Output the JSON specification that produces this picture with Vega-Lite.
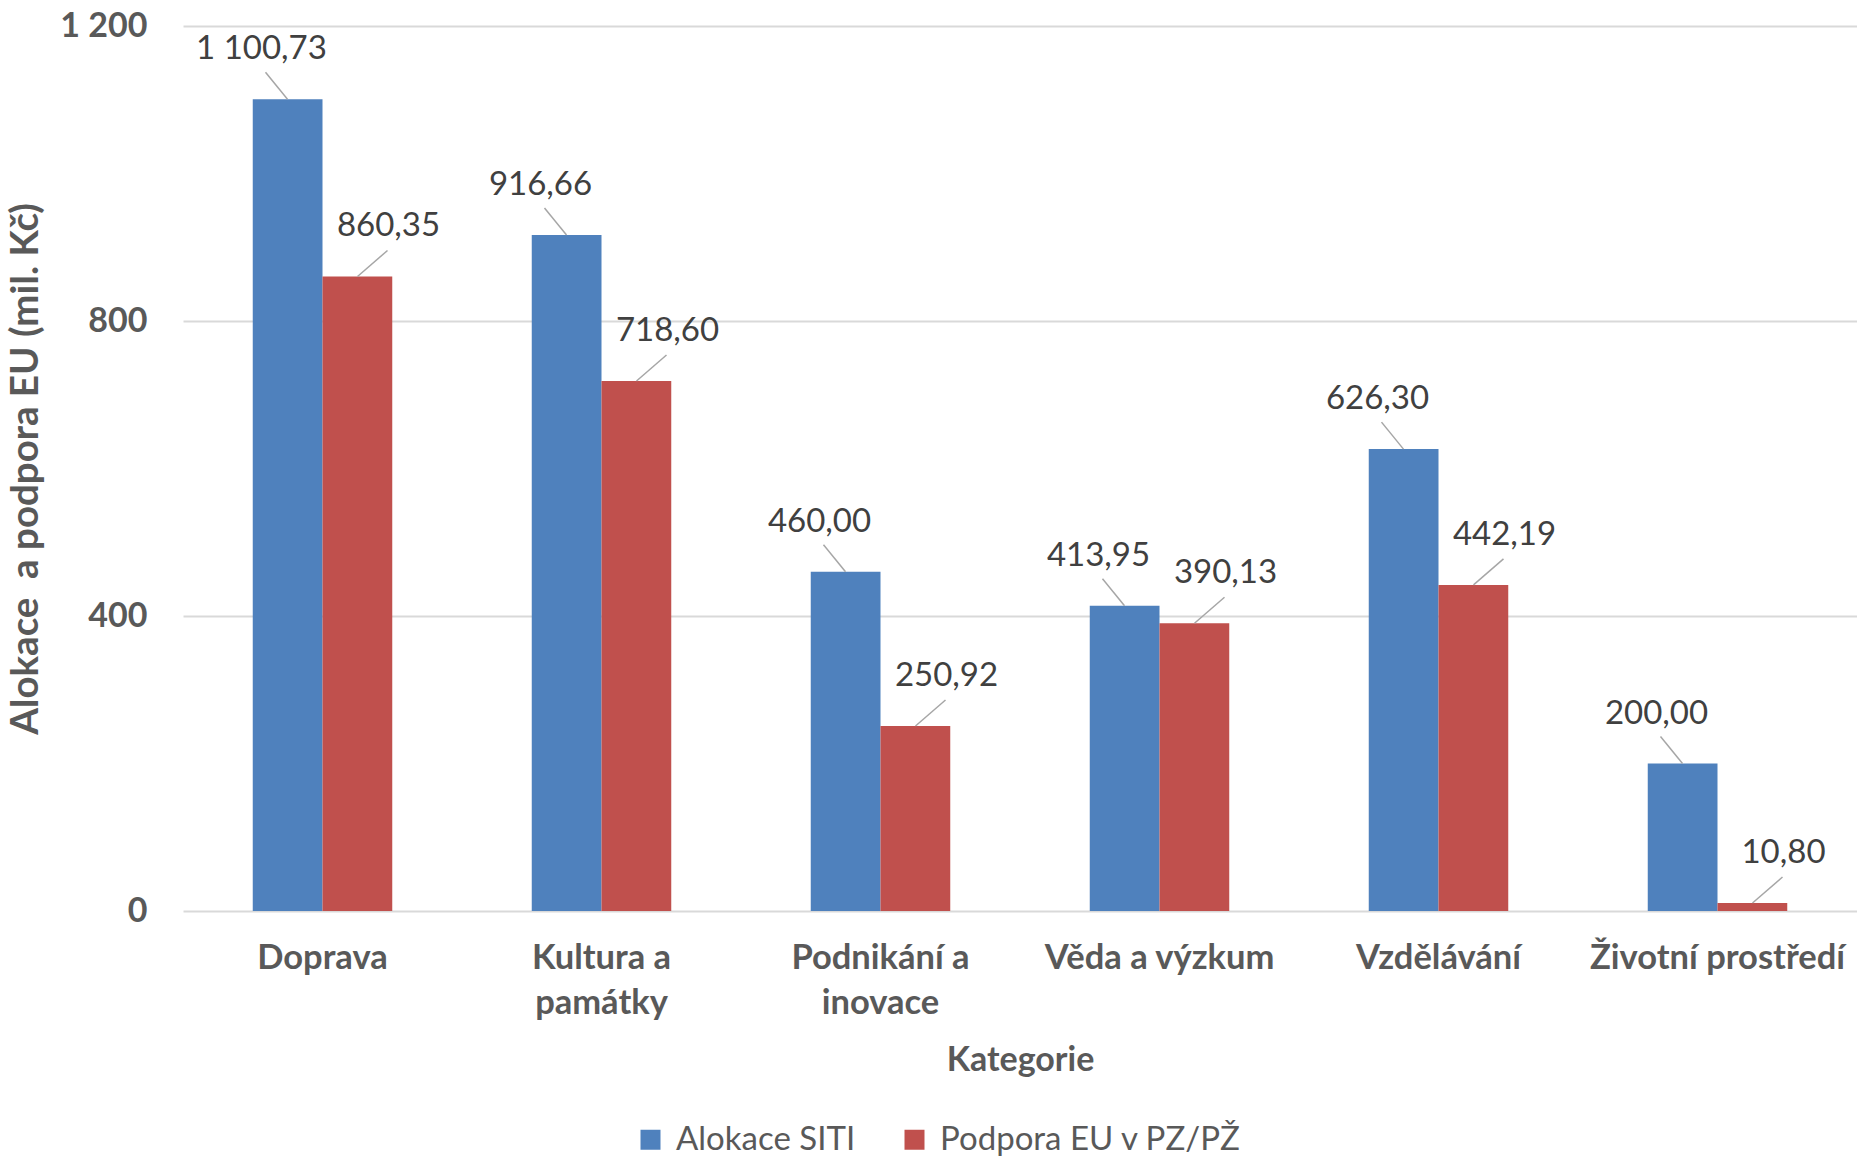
{
  "$schema": "https://vega.github.io/schema/vega-lite/v6.json",
  "width": 1674,
  "height": 885,
  "autosize": "none",
  "padding": {"left": 183, "top": 26, "right": 0, "bottom": 248},
  "background": "white",
  "config": {
    "view": {"stroke": null},
    "font": "Lato",
    "locale": {"number": {"decimal": ",", "thousands": " ", "grouping": [3], "currency": ["", " Kč"]}}
  },
  "data": {
    "values": [
      {"kategorie": "Doprava", "serie": "Alokace SITI", "hodnota": 1100.73},
      {"kategorie": "Doprava", "serie": "Podpora EU v PZ/PŽ", "hodnota": 860.35},
      {"kategorie": "Kultura a památky", "serie": "Alokace SITI", "hodnota": 916.66},
      {"kategorie": "Kultura a památky", "serie": "Podpora EU v PZ/PŽ", "hodnota": 718.60},
      {"kategorie": "Podnikání a inovace", "serie": "Alokace SITI", "hodnota": 460.00},
      {"kategorie": "Podnikání a inovace", "serie": "Podpora EU v PZ/PŽ", "hodnota": 250.92},
      {"kategorie": "Věda a výzkum", "serie": "Alokace SITI", "hodnota": 413.95},
      {"kategorie": "Věda a výzkum", "serie": "Podpora EU v PZ/PŽ", "hodnota": 390.13},
      {"kategorie": "Vzdělávání", "serie": "Alokace SITI", "hodnota": 626.30},
      {"kategorie": "Vzdělávání", "serie": "Podpora EU v PZ/PŽ", "hodnota": 442.19},
      {"kategorie": "Životní prostředí", "serie": "Alokace SITI", "hodnota": 200.00},
      {"kategorie": "Životní prostředí", "serie": "Podpora EU v PZ/PŽ", "hodnota": 10.80}
    ]
  },
  "layer": [
    {
      "mark": {"type": "bar"},
      "encoding": {
        "x": {
          "field": "kategorie", "type": "nominal", "sort": null,
          "scale": {"paddingInner": 0.5, "paddingOuter": 0.25},
          "axis": {
            "title": "Kategorie",
            "labelAngle": 0,
            "labelFont": "Lato", "labelFontWeight": "bold", "labelFontSize": 34.5, "labelColor": "#595959",
            "labelPadding": 30, "labelLineHeight": 45, "labelLimit": 500,
            "labelExpr": "datum.value == 'Kultura a památky' ? ['Kultura a', 'památky'] : datum.value == 'Podnikání a inovace' ? ['Podnikání a', 'inovace'] : datum.value",
            "ticks": false, "domain": false,
            "titleFont": "Lato", "titleFontWeight": "bold", "titleFontSize": 34, "titleColor": "#595959",
            "titlePadding": 24
          }
        },
        "xOffset": {"field": "serie", "type": "nominal"},
        "y": {
          "field": "hodnota", "type": "quantitative",
          "scale": {"domain": [0, 1200], "nice": false},
          "axis": {
            "title": "Alokace\u00a0 a podpora EU (mil. Kč)",
            "values": [0, 400, 800, 1200],
            "format": ",d",
            "labelFont": "Lato", "labelFontWeight": "bold", "labelFontSize": 34, "labelColor": "#595959",
            "labelPadding": 36,
            "ticks": false, "domain": false,
            "grid": true, "gridColor": "#D9D9D9", "gridWidth": 2,
            "titleFont": "Lato", "titleFontWeight": "bold", "titleFontSize": 38.5, "titleColor": "#595959",
            "titlePadding": 14
          }
        },
        "color": {
          "field": "serie", "type": "nominal",
          "scale": {"domain": ["Alokace SITI", "Podpora EU v PZ/PŽ"], "range": ["#4F81BD", "#C0504D"]},
          "legend": {
            "title": null,
            "orient": "none",
            "legendX": 451,
            "legendY": 1097,
            "direction": "horizontal",
            "symbolType": "square",
            "symbolSize": 400,
            "symbolStrokeWidth": 0,
            "labelFont": "Lato", "labelFontSize": 33, "labelColor": "#595959",
            "labelOffset": 9,
            "columnPadding": 42,
            "labelLimit": 500
          }
        }
      }
    },
    {
      "transform": [{"filter": "datum.serie == 'Alokace SITI'"}],
      "mark": {"type": "rule", "color": "#A6A6A6", "strokeWidth": 1.5, "xOffset": -35, "x2Offset": -57, "y2Offset": -27},
      "encoding": {
        "x": {"field": "kategorie", "type": "nominal", "sort": null, "bandPosition": 0.5},
        "x2": {"field": "kategorie", "bandPosition": 0.5},
        "y": {"field": "hodnota", "type": "quantitative"},
        "y2": {"field": "hodnota"}
      }
    },
    {
      "transform": [{"filter": "datum.serie == 'Alokace SITI'"}],
      "mark": {"type": "text", "font": "Lato", "fontSize": 33, "color": "#404040", "baseline": "middle", "align": "center", "dx": -61, "dy": -50},
      "encoding": {
        "x": {"field": "kategorie", "type": "nominal", "sort": null, "bandPosition": 0.5},
        "y": {"field": "hodnota", "type": "quantitative"},
        "text": {"field": "hodnota", "type": "quantitative", "format": ",.2f"}
      }
    },
    {
      "transform": [{"filter": "datum.serie == 'Podpora EU v PZ/PŽ'"}],
      "mark": {"type": "rule", "color": "#A6A6A6", "strokeWidth": 1.5, "xOffset": 35, "x2Offset": 65, "y2Offset": -26},
      "encoding": {
        "x": {"field": "kategorie", "type": "nominal", "sort": null, "bandPosition": 0.5},
        "x2": {"field": "kategorie", "bandPosition": 0.5},
        "y": {"field": "hodnota", "type": "quantitative"},
        "y2": {"field": "hodnota"}
      }
    },
    {
      "transform": [{"filter": "datum.serie == 'Podpora EU v PZ/PŽ'"}],
      "mark": {"type": "text", "font": "Lato", "fontSize": 33, "color": "#404040", "baseline": "middle", "align": "center", "dx": 66, "dy": -50},
      "encoding": {
        "x": {"field": "kategorie", "type": "nominal", "sort": null, "bandPosition": 0.5},
        "y": {"field": "hodnota", "type": "quantitative"},
        "text": {"field": "hodnota", "type": "quantitative", "format": ",.2f"}
      }
    }
  ]
}
